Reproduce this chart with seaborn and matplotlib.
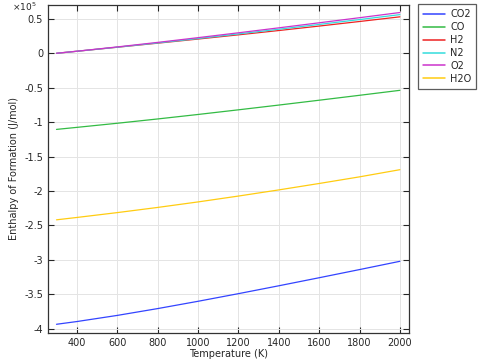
import numpy as np
import pandas as pd
import matplotlib
matplotlib.use("Agg")
import matplotlib.pyplot as plt
import seaborn as sns
from matplotlib.ticker import FuncFormatter, MultipleLocator

# Temperatures (K) and enthalpy of formation (J/mol)
temperature = [298.15, 400, 600, 800, 1000, 1200, 1400, 1600, 1800, 2000]
h_co2 = [-393520, -389520, -380610, -370710, -360120, -349050, -337620, -325940, -314090, -302080]
h_co = [-110530, -107550, -101590, -95350, -88840, -82090, -75190, -68150, -61010, -53790]
h_h2 = [0, 2960, 8810, 14700, 20680, 26800, 33060, 39540, 46170, 52950]
h_n2 = [0, 2970, 8890, 15050, 21460, 28110, 34940, 41900, 48980, 56140]
h_o2 = [0, 3030, 9250, 15840, 22710, 29760, 36960, 44270, 51670, 59180]
h_h2o = [-241830, -238380, -231330, -223830, -215830, -207320, -198380, -189070, -179440, -169040]

species = ["CO2", "CO", "H2", "N2", "O2", "H2O"]
colors = ["#3344ff", "#33bb44", "#ee2222", "#33dddd", "#cc33cc", "#ffcc11"]

df = pd.DataFrame({"T": temperature, "CO2": h_co2, "CO": h_co, "H2": h_h2,
                   "N2": h_n2, "O2": h_o2, "H2O": h_h2o})
long = df.melt(id_vars="T", var_name="species", value_name="H")

sns.set_style("ticks")
plt.rcParams["font.family"] = ["DejaVu Sans"]
fig = plt.figure(figsize=(4.8, 3.63), dpi=100)
ax = fig.add_axes([0.1, 0.083, 0.752, 0.903])

sns.lineplot(data=long, x="T", y="H", hue="species", hue_order=species,
             palette=colors, linewidth=0.9, ax=ax, legend=False)

ax.set_xlim(256, 2045)
ax.set_ylim(-4.06e5, 0.70e5)
ax.xaxis.set_major_locator(MultipleLocator(200))
ax.yaxis.set_major_locator(MultipleLocator(0.5e5))
ax.yaxis.set_major_formatter(FuncFormatter(lambda v, p: f"{v/1e5:g}"))
ax.grid(True, color="#e4e4e4", linewidth=0.7)
ax.tick_params(direction="in", top=True, right=True, labelsize=7, length=4, width=0.8)
for s in ax.spines.values():
    s.set_color("#333333")
    s.set_linewidth(0.9)
ax.set_xlabel("Temperature (K)", fontsize=7, labelpad=1)
ax.set_ylabel("Enthalpy of Formation (J/mol)", fontsize=7, labelpad=4)
fig.text(0.025, 0.982, r"$\times10^5$", fontsize=6.5, va="center")

handles = [plt.Line2D([], [], color=c, lw=1.1) for c in colors]
leg = fig.legend(handles, species, loc="upper left", bbox_to_anchor=(0.871, 0.988),
                 fontsize=7, frameon=True, fancybox=False, handlelength=2.3,
                 handletextpad=0.5, borderpad=0.5, borderaxespad=0,
                 labelspacing=0.3)
leg.get_frame().set_edgecolor("#333333")
leg.get_frame().set_linewidth(0.9)

fig.savefig("out.png", dpi=100)
